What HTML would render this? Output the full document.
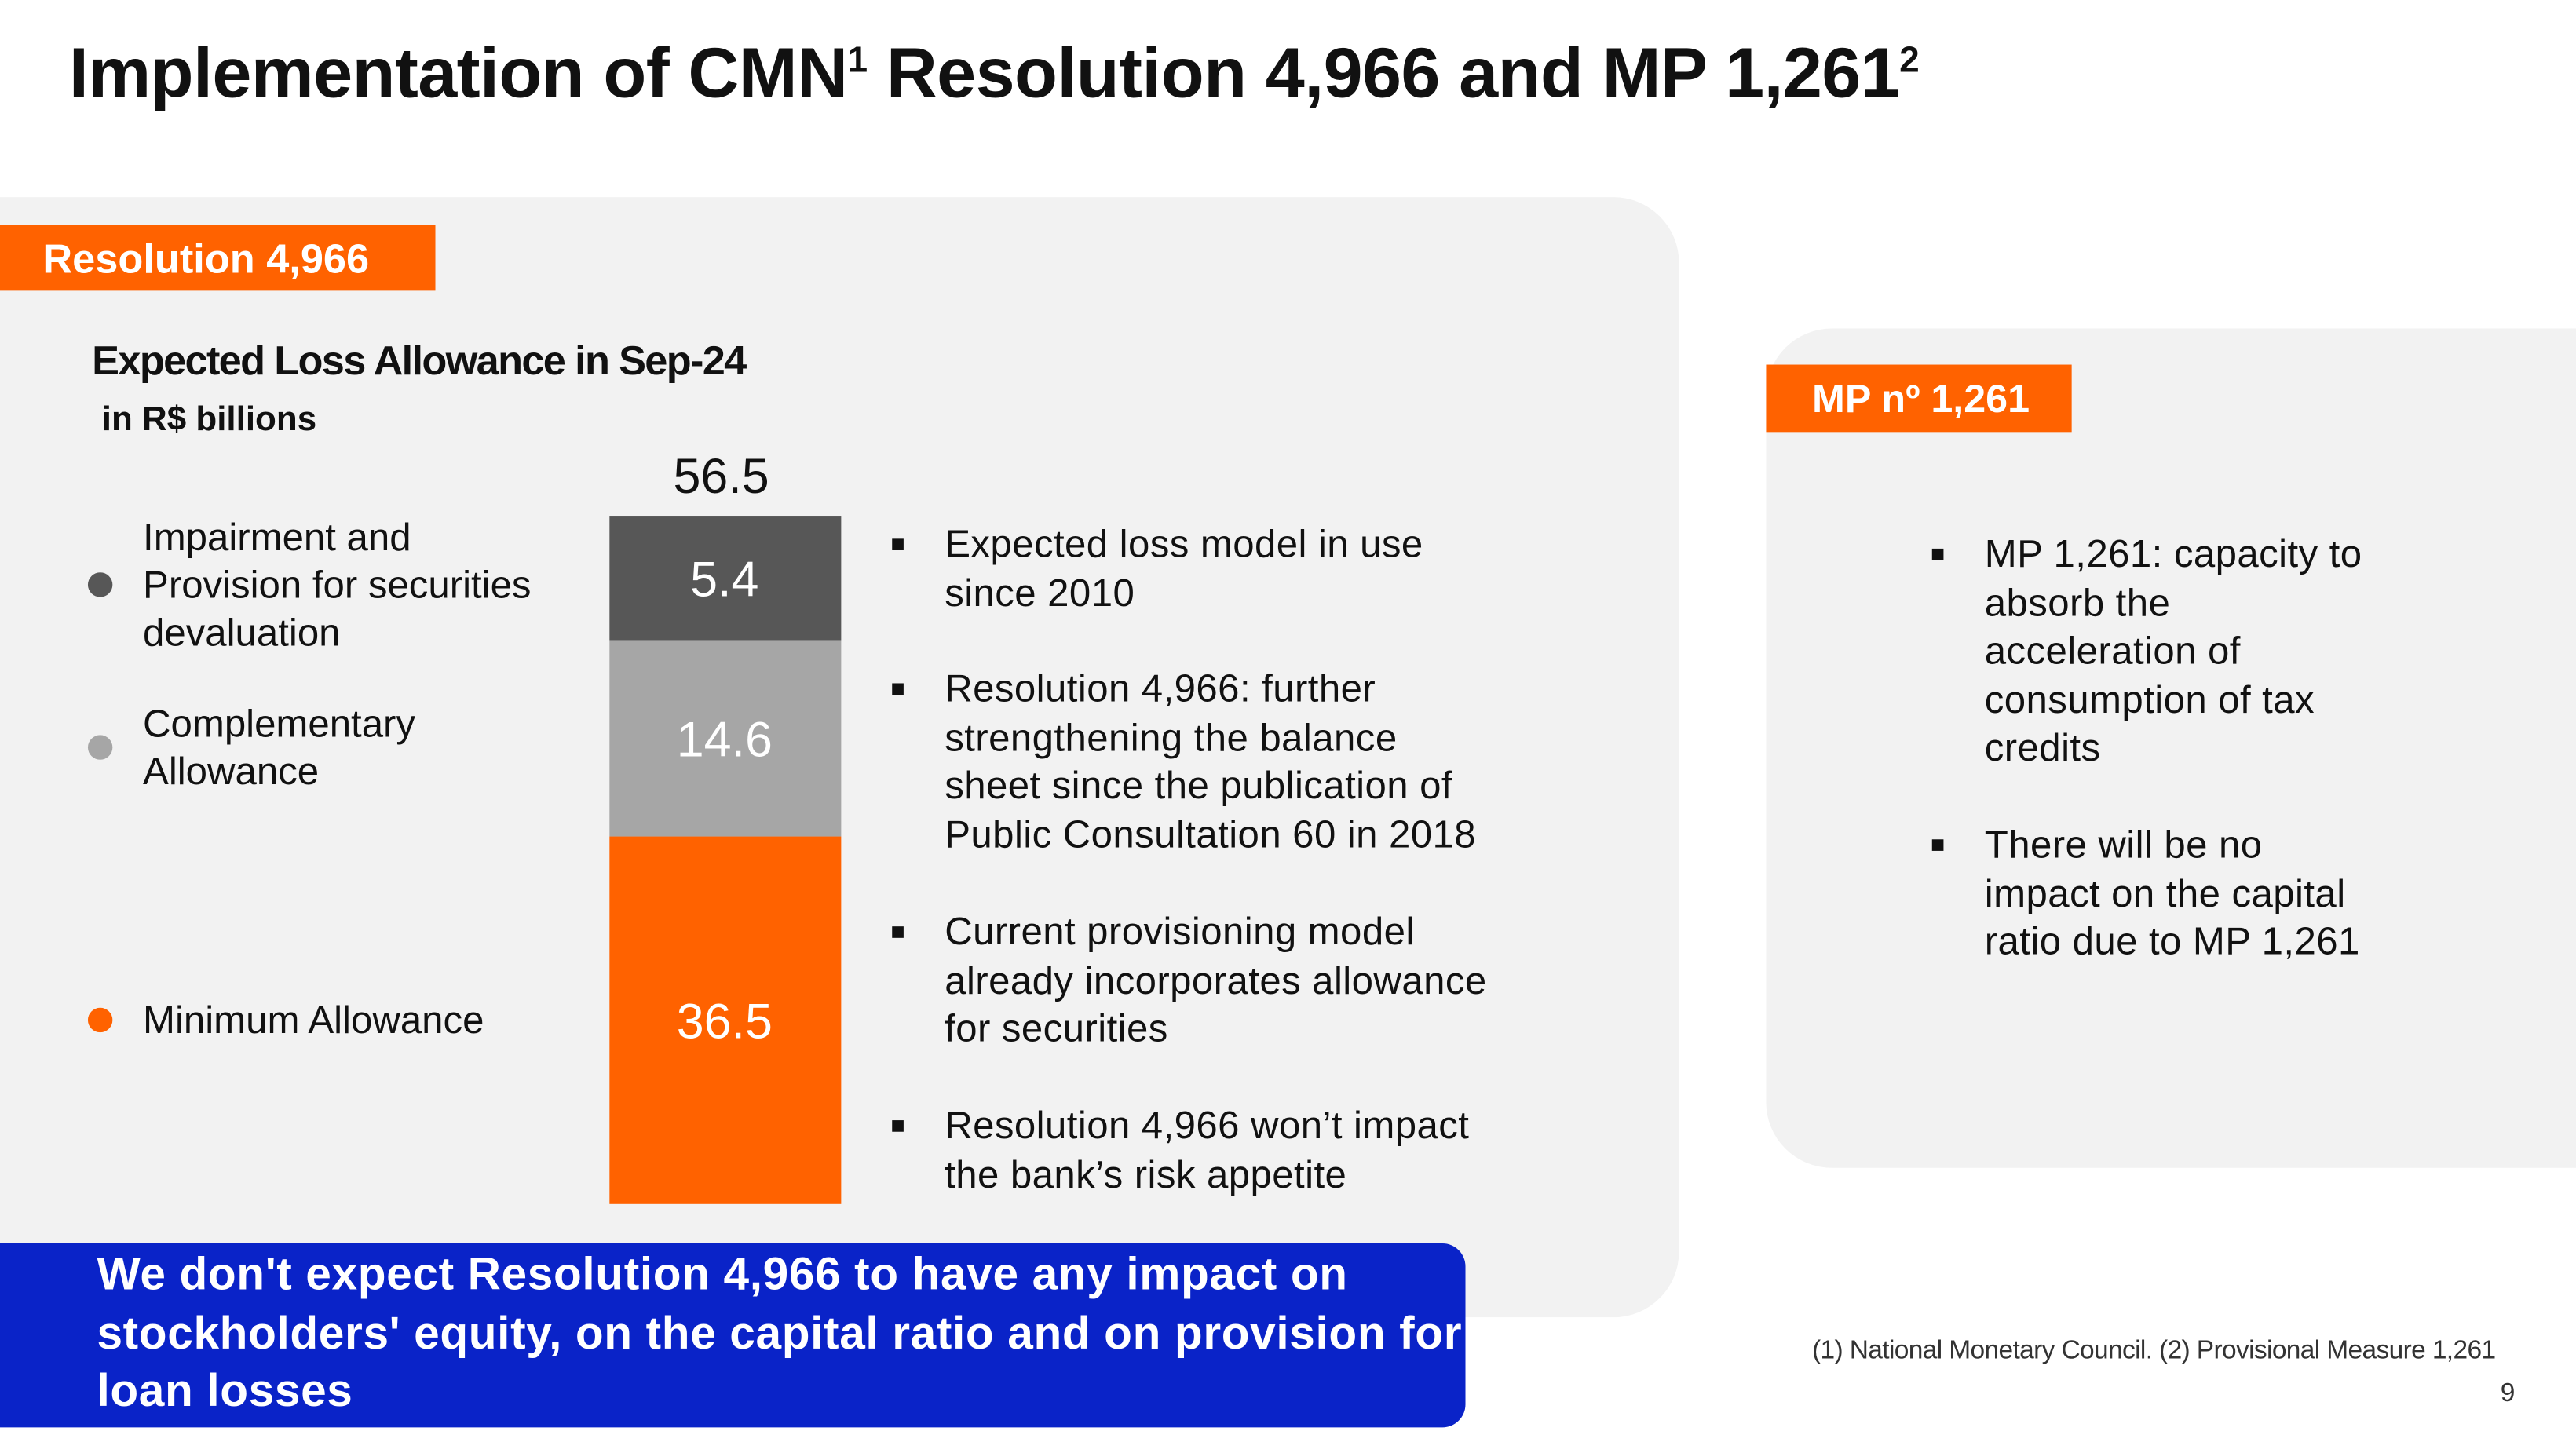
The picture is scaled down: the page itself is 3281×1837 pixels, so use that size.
<!DOCTYPE html>
<html><head><meta charset="utf-8">
<style>
html,body{margin:0;padding:0;background:#fff;}
body{width:3281px;height:1837px;overflow:hidden;position:relative;}
#s{position:absolute;left:0;top:0;width:1568px;height:878px;transform:scale(2.0925);transform-origin:0 0;font-family:"Liberation Sans",sans-serif;color:#111;}
.a{position:absolute;white-space:nowrap;}
.bl{position:absolute;font-size:23.5px;line-height:29.6px;color:#111;letter-spacing:0.2px;}
.bl::before{content:"";position:absolute;left:-32px;top:11px;width:7px;height:7px;background:#111;}
</style></head><body>
<div id="s">
<div class="a" style="left:42px;top:21px;font-size:43px;font-weight:bold;letter-spacing:-0.3px;">Implementation of CMN<sup style="font-size:22px">1</sup> Resolution 4,966 and MP 1,261<sup style="font-size:22px">2</sup></div>

<div class="a" style="left:0;top:120px;width:1022px;height:682px;background:#f2f2f2;border-radius:0 40px 40px 0;"></div>
<div class="a" style="left:0;top:137px;width:265px;height:40px;background:#ff6200;color:#fff;font-size:25px;font-weight:bold;line-height:42px;padding-left:26px;box-sizing:border-box;">Resolution 4,966</div>
<div class="a" style="left:56px;top:206px;font-size:25px;font-weight:bold;letter-spacing:-0.8px;">Expected Loss Allowance in Sep-24</div>
<div class="a" style="left:62px;top:244px;font-size:21px;font-weight:bold;">in R$ billions</div>

<svg class="a" style="left:0;top:0" width="1568" height="878" id="chart"></svg>

<div class="bl" style="left:575px;top:317px;">Expected loss model in use<br>since 2010</div>
<div class="bl" style="left:575px;top:405px;">Resolution 4,966: further<br>strengthening the balance<br>sheet since the publication of<br>Public Consultation 60 in 2018</div>
<div class="bl" style="left:575px;top:553px;">Current provisioning model<br>already incorporates allowance<br>for securities</div>
<div class="bl" style="left:575px;top:671px;">Resolution 4,966 won’t impact<br>the bank’s risk appetite</div>

<div class="a" style="left:0;top:757px;width:892px;height:112px;background:#0a23c8;border-radius:0 14px 14px 0;"></div>
<div class="a" style="left:59px;top:758px;font-size:28px;line-height:35.5px;color:#fff;font-weight:bold;letter-spacing:0.3px;">We don't expect Resolution 4,966 to have any impact on<br>stockholders' equity, on the capital ratio and on provision for<br>loan losses</div>

<div class="a" style="left:1075px;top:200px;width:493px;height:511px;background:#f2f2f2;border-radius:40px 0 0 40px;"></div>
<div class="a" style="left:1075px;top:222px;width:186px;height:41px;background:#ff6200;color:#fff;font-size:24px;font-weight:bold;line-height:44px;padding-left:28px;box-sizing:border-box;">MP nº 1,261</div>
<div class="bl" style="left:1208px;top:323px;">MP 1,261: capacity to<br>absorb the<br>acceleration of<br>consumption of tax<br>credits</div>
<div class="bl" style="left:1208px;top:500px;">There will be no<br>impact on the capital<br>ratio due to MP 1,261</div>

<div class="a" style="left:1103px;top:814px;font-size:16px;color:#333;letter-spacing:-0.3px;">(1) National Monetary Council. (2) Provisional Measure 1,261</div>
<div class="a" style="left:1522px;top:840px;font-size:16px;color:#333;">9</div>
</div>
<script>
const categories=["Minimum Allowance","Complementary Allowance","Impairment and Provision for securities devaluation"];
const values=[36.5,14.6,5.4];
const valueLabels=["36.5","14.6","5.4"];
const totalLabel="56.5";
const svg=document.getElementById('chart');
const NS='http://www.w3.org/2000/svg';
const colors=["#ff6200","#a6a6a6","#575757"];
const legendY=[621,455,356];
const legendText=[["Minimum Allowance"],["Complementary","Allowance"],["Impairment and","Provision for securities","devaluation"]];
const base=733, top0=314, minH=50;
const total=values.reduce((a,b)=>a+b,0);
const k=(base-top0-minH*values.length)/total;
function h(v){return minH+k*v;}
let y=base;
values.forEach((v,i)=>{
  const hh=h(v); y-=hh;
  const r=document.createElementNS(NS,'rect');
  r.setAttribute('x',371);r.setAttribute('y',y);r.setAttribute('width',141);r.setAttribute('height',hh);r.setAttribute('fill',colors[i]);
  
  
  svg.appendChild(r);
  const t=document.createElementNS(NS,'text');
  t.setAttribute('x',441);t.setAttribute('y',y+hh/2+11);t.setAttribute('text-anchor','middle');
  t.setAttribute('font-size','30');t.setAttribute('fill','#fff');t.textContent=valueLabels[i];
  
  
  svg.appendChild(t);
  const c=document.createElementNS(NS,'circle');
  c.setAttribute('cx',61);c.setAttribute('cy',legendY[i]);c.setAttribute('r',7.5);c.setAttribute('fill',colors[i]);
  
  
  svg.appendChild(c);
  const lines=legendText[i];
  lines.forEach((ln,j)=>{
    const lt=document.createElementNS(NS,'text');
    lt.setAttribute('x',87);lt.setAttribute('y',legendY[i]+8+(j-(lines.length-1)/2)*29);
    lt.setAttribute('font-size','23.5');lt.setAttribute('fill','#111');lt.setAttribute('letter-spacing','0');lt.textContent=ln;
    
    
    svg.appendChild(lt);
  });
});
const tt=document.createElementNS(NS,'text');
tt.setAttribute('x',439);tt.setAttribute('y',y-14);tt.setAttribute('text-anchor','middle');tt.setAttribute('font-size','30');tt.setAttribute('fill','#111');
tt.textContent=totalLabel;


svg.appendChild(tt);
</script>
</body></html>
